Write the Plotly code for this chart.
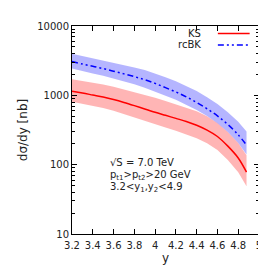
import plotly.graph_objects as go

y_rap = [3.2, 3.3, 3.4, 3.5, 3.6, 3.7, 3.8, 3.9, 4.0, 4.1, 4.2, 4.3, 4.4, 4.5, 4.6, 4.7, 4.8, 4.88]

ks_central = [1145, 1080, 1010, 945, 870, 790, 710, 635, 570, 515, 465, 420, 370, 315, 255, 185, 125, 78]
ks_upper = [1700, 1610, 1520, 1430, 1330, 1220, 1110, 1010, 920, 830, 745, 670, 590, 500, 400, 295, 205, 137]
ks_lower = [810, 760, 705, 655, 600, 540, 485, 430, 385, 345, 308, 275, 240, 203, 163, 117, 78, 49]

rcbk_central = [3070, 2830, 2620, 2430, 2230, 2040, 1860, 1680, 1490, 1290, 1120, 950, 790, 640, 505, 380, 270, 192]
rcbk_upper = [3980, 3700, 3450, 3220, 2980, 2750, 2530, 2310, 2070, 1820, 1600, 1370, 1150, 940, 750, 570, 415, 300]
rcbk_lower = [2430, 2240, 2070, 1910, 1750, 1590, 1440, 1290, 1140, 990, 860, 735, 615, 505, 395, 295, 205, 140]

x_ticks = [3.2, 3.4, 3.6, 3.8, 4.0, 4.2, 4.4, 4.6, 4.8, 5.0]
x_ticktext = ["3.2", "3.4", "3.6", "3.8", "4", "4.2", "4.4", "4.6", "4.8", "5"]
y_ticks = [10, 100, 1000, 10000]
y_ticktext = ["10", "100", "1000", "10000"]
y_minor = [m * d for d in (10, 100, 1000) for m in range(2, 10)]

FONT = "DejaVu Sans"
KS_LINE = "#ff0000"
KS_FILL = "rgba(255,120,120,0.55)"
RC_LINE = "#0000ff"
RC_FILL = "rgba(120,120,255,0.55)"
DASH = "6px,3px,2px,3px,2px,3px"

fig = go.Figure()

fig.add_trace(go.Scatter(x=y_rap + y_rap[::-1], y=ks_upper + ks_lower[::-1],
                         fill="toself", fillcolor=KS_FILL, line=dict(width=0),
                         mode="lines", showlegend=False, hoverinfo="skip"))
fig.add_trace(go.Scatter(x=y_rap + y_rap[::-1], y=rcbk_upper + rcbk_lower[::-1],
                         fill="toself", fillcolor=RC_FILL, line=dict(width=0),
                         mode="lines", showlegend=False, hoverinfo="skip"))
fig.add_trace(go.Scatter(x=y_rap, y=ks_central, mode="lines", line_shape="spline",
                         line=dict(color=KS_LINE, width=1.5), showlegend=False))
fig.add_trace(go.Scatter(x=y_rap, y=rcbk_central, mode="lines", line_shape="spline",
                         line=dict(color=RC_LINE, width=1.5, dash=DASH), showlegend=False))

# legend (gnuplot style: text then sample)
fig.add_annotation(xref="paper", yref="paper", x=0.70, y=0.964, text="KS", showarrow=False,
                   xanchor="right", yanchor="middle", font=dict(family=FONT, size=10, color="#222"))
fig.add_annotation(xref="paper", yref="paper", x=0.70, y=0.909, text="rcBK", showarrow=False,
                   xanchor="right", yanchor="middle", font=dict(family=FONT, size=10, color="#222"))
fig.add_shape(type="line", xref="paper", yref="paper", x0=0.78, x1=0.95, y0=0.964, y1=0.964,
              line=dict(color=KS_LINE, width=1.5))
fig.add_shape(type="line", xref="paper", yref="paper", x0=0.78, x1=0.95, y0=0.909, y1=0.909,
              line=dict(color=RC_LINE, width=1.5, dash=DASH))

# text box
for yy, txt in [(0.345, "√S = 7.0 TeV"),
                (0.282, "p<sub>t1</sub>>p<sub>t2</sub>>20 GeV"),
                (0.222, "3.2<y<sub>1</sub>,y<sub>2</sub><4.9")]:
    fig.add_annotation(xref="paper", yref="paper", x=0.19, y=yy, text=txt, showarrow=False,
                       xanchor="left", yanchor="middle", font=dict(family=FONT, size=10, color="#222"))

axis_common = dict(showline=True, linecolor="black", linewidth=1, mirror="ticks",
                   ticks="inside", tickcolor="black", ticklen=5, showgrid=False, zeroline=False,
                   tickfont=dict(family=FONT, size=10, color="#222"))

fig.update_xaxes(range=[3.2, 5.0], tickvals=x_ticks, ticktext=x_ticktext, ticklabelstandoff=2,
                 title=dict(text="y", font=dict(family=FONT, size=12, color="#222"), standoff=3),
                 **axis_common)
fig.update_yaxes(type="log", range=[1, 4], tickvals=y_ticks, ticktext=y_ticktext,
                 minor=dict(tickvals=y_minor, ticks="inside", ticklen=3, tickcolor="black", showgrid=False),
                 title=dict(text="dσ/dy [nb]", font=dict(family=FONT, size=12, color="#222"), standoff=6),
                 **axis_common)

fig.update_layout(width=266, height=266, margin=dict(l=64, r=14, t=12, b=34),
                  paper_bgcolor="white", plot_bgcolor="white", showlegend=False)

fig.write_html("out.html")
